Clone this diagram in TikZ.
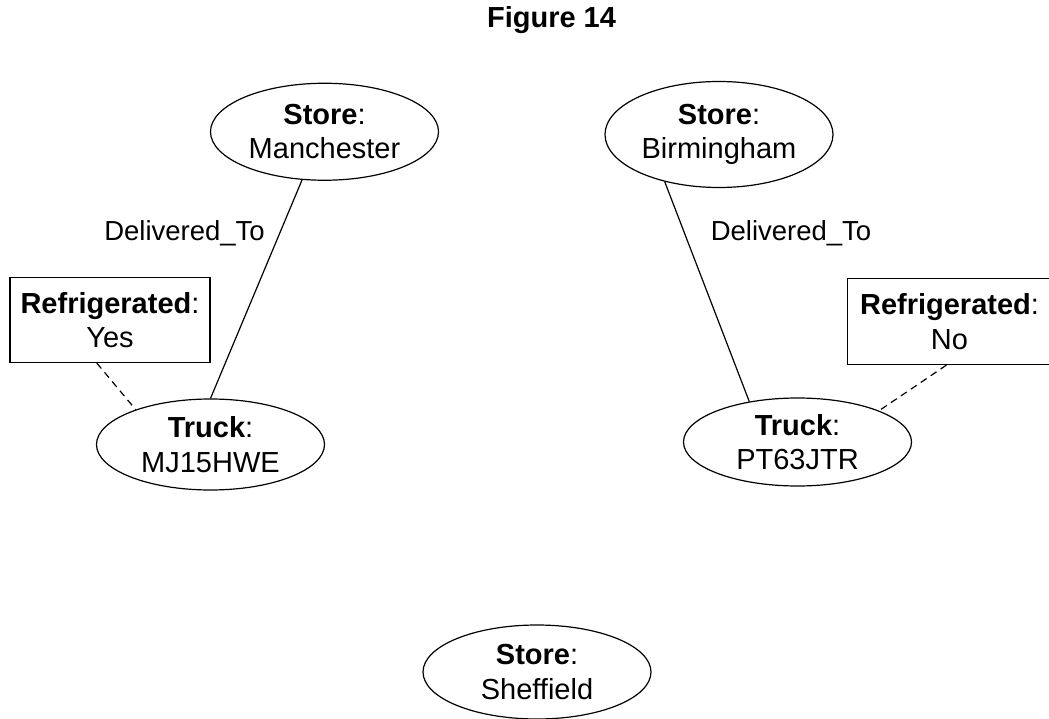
\documentclass[tikz,border=0pt]{standalone}
\usepackage{fontspec}
\setmainfont{Liberation Sans}
\usetikzlibrary{shapes.geometric}

\begin{document}
\begin{tikzpicture}[x=1pt,y=-1pt,
    every node/.style={font=\fontsize{29}{34.5}\selectfont},
    entity/.style={draw,ellipse,line width=1.2pt,inner sep=0pt,align=center,minimum width=228pt,minimum height=97pt},
    attrbox/.style={draw,rectangle,line width=1.2pt,inner sep=0pt,align=center,minimum width=200pt,minimum height=85pt},
    rolelabel/.style={font=\fontsize{27.5}{33}\selectfont},
    link/.style={line width=1.2pt},
    attrlink/.style={line width=1.2pt,dash pattern=on 7pt off 5pt}]
    \useasboundingbox (0,0) rectangle (1049,719);
    \node[font=\fontsize{29}{34}\selectfont\bfseries,anchor=base] (title) at (551.5,28) {Figure 14};
    \node[entity] (manchester) at (324.5,131.75) {\textbf{Store}:\\Manchester};
    \node[entity,minimum height=106pt] (birmingham) at (719,134.5) {\textbf{Store}:\\Birmingham};
    \node[entity,minimum height=91pt] (mj) at (210.5,444.5) {\textbf{Truck}:\\MJ15HWE};
    \node[entity,minimum height=88pt] (pt) at (797.5,442) {\textbf{Truck}:\\PT63JTR};
    \node[entity,minimum height=94pt] (sheffield) at (537,672) {\textbf{Store}:\\Sheffield};
    \node[attrbox] (yes) at (110,320) {\textbf{Refrigerated}:\\Yes};
    \node[attrbox,minimum width=204pt,minimum height=86pt] (no) at (949.5,321.5) {\textbf{Refrigerated}:\\No};
    \node[rolelabel] (delivmj) at (184.5,233) {Delivered\_To};
    \node[rolelabel] (delivpt) at (791,233) {Delivered\_To};
    \draw[link] (manchester.245) -- (mj.90);
    \draw[link] (birmingham.221) -- (pt.140);
    \draw[attrlink] (yes.253) -- (mj.155);
    \draw[attrlink] (no.266) -- (pt.21);
\end{tikzpicture}
\end{document}
